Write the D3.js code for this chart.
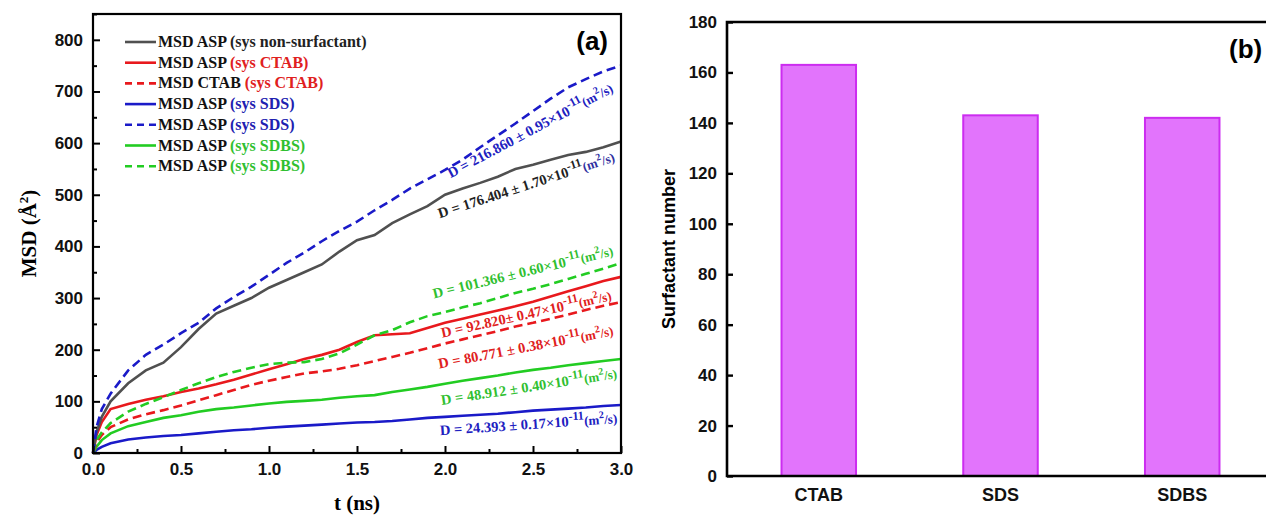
<!DOCTYPE html>
<html>
<head>
<meta charset="utf-8">
<script src="https://cdn.jsdelivr.net/npm/d3@7"></script>
<style>
  body { margin: 0; background: #fff; }
  svg text { font-family: "Liberation Serif", "Times New Roman", serif; font-weight: bold; }
  .sans { font-family: "Liberation Sans", Arial, sans-serif !important; }
</style>
</head>
<body>
<div id="chart"></div>
<script>
// time grid (ns) shared by all MSD curves
var tNs = [0, 0.02, 0.05, 0.1, 0.2, 0.3, 0.4, 0.5, 0.6, 0.7, 0.8, 0.9, 1.0, 1.1, 1.2, 1.3, 1.4, 1.5,
           1.6, 1.7, 1.8, 1.9, 2.0, 2.1, 2.2, 2.3, 2.4, 2.5, 2.6, 2.7, 2.8, 2.9, 3.0];

// MSD values (A^2)
var msdNonSurf   = [0, 40, 70, 100, 135, 160, 175, 205, 240, 270, 285, 300, 320, 335, 350, 365, 390, 412,
                    422, 445, 462, 478, 500, 512, 523, 535, 550, 558, 568, 577, 583, 592, 603];
var msdAspCtab   = [0, 35, 60, 85, 95, 103, 110, 118, 125, 133, 142, 152, 162, 172, 182, 190, 200, 215,
                    228, 230, 232, 242, 252, 260, 268, 276, 284, 293, 303, 313, 323, 333, 341];
var msdCtabCtab  = [0, 20, 35, 50, 65, 75, 83, 92, 102, 112, 122, 132, 140, 147, 154, 158, 163, 170,
                    178, 186, 194, 203, 212, 220, 228, 236, 245, 252, 260, 268, 277, 285, 292];
var msdAspSds    = [0, 6, 12, 19, 26, 30, 33, 35, 38, 41, 44, 46, 49, 51, 53, 55, 57, 59,
                    60, 62, 65, 68, 70, 72, 74, 76, 79, 82, 84, 86, 88, 91, 93];
var msdSdsDash   = [0, 50, 85, 115, 160, 190, 210, 232, 252, 280, 302, 322, 345, 368, 388, 410, 430, 448,
                    470, 490, 512, 530, 548, 568, 592, 615, 638, 662, 686, 708, 724, 739, 750];
var msdAspSdbs   = [0, 12, 25, 38, 52, 60, 68, 73, 80, 85, 88, 92, 96, 99, 101, 103, 107, 110,
                    112, 118, 123, 128, 134, 140, 145, 150, 156, 161, 165, 170, 174, 178, 182];
var msdSdbsDash  = [0, 25, 40, 58, 80, 95, 108, 122, 135, 147, 157, 165, 172, 175, 176, 182, 193, 210,
                    228, 238, 253, 265, 273, 282, 290, 300, 310, 318, 327, 337, 347, 357, 368];

var seriesNames = ['MSD ASP', 'MSD ASP', 'MSD CTAB', 'MSD ASP', 'MSD ASP', 'MSD ASP', 'MSD ASP'];
var seriesSys   = ['(sys non-surfactant)', '(sys CTAB)', '(sys CTAB)', '(sys SDS)', '(sys SDS)', '(sys SDBS)', '(sys SDBS)'];
var seriesVals  = [msdNonSurf, msdAspCtab, msdCtabCtab, msdAspSds, msdSdsDash, msdAspSdbs, msdSdbsDash];

// diffusion coefficient labels (x10^-11 m^2/s)
var diffLabel = ['D = 216.860 ± 0.95×10', 'D = 176.404 ± 1.70×10', 'D = 101.366 ± 0.60×10',
                 'D = 92.820± 0.47×10', 'D = 80.771 ± 0.38×10', 'D = 48.912 ± 0.40×10', 'D = 24.393 ± 0.17×10'];

// panel b
var surfactants = ['CTAB', 'SDS', 'SDBS'];
var surfCount = [163, 143, 142];

// ---- styles
var lineColor = ['#505050', '#e8191d', '#e8191d', '#1a1ac8', '#1a1ac8', '#22cc22', '#22cc22'];
var sysColor  = ['#222222', '#e02020', '#e02020', '#2020b0', '#2020b0', '#30c030', '#30c030'];
var dashed    = [false, false, true, false, true, false, true];
// annotation placement: [t, msd] of text end, rotation, colour, colour of the unit part
var annoPos = [[2.96, 700, -28, '#2020c0', '#2020c0'], [2.97, 565, -18, '#222222', '#3030a0'],
               [2.96, 383, -13.5, '#30c030', '#30c030'], [2.95, 296, -12.5, '#e02020', '#e02020'],
               [2.96, 228, -10.8, '#e02020', '#e02020'], [2.98, 145, -8.7, '#30c030', '#30c030'],
               [2.98, 58, -3.9, '#2020c0', '#2020c0']];

var W = 1266, H = 519;
var svg = d3.select('#chart').append('svg').attr('width', W).attr('height', H);

// ================= panel (a)
var a = {left: 93, right: 621, top: 14, bottom: 453};
var x = d3.scaleLinear().domain([0, 3]).range([a.left, a.right]);
var y = d3.scaleLinear().domain([0, 850]).range([a.bottom, a.top]);

var pa = svg.append('g');

var line = d3.line().x((d, i) => x(tNs[i])).y(d => y(d));
[3, 5, 2, 1, 6, 0, 4].forEach(function(k) {
  pa.append('path')
    .attr('d', line(seriesVals[k]))
    .attr('fill', 'none')
    .attr('stroke', lineColor[k])
    .attr('stroke-width', 2.6)
    .attr('stroke-dasharray', dashed[k] ? '9,5' : null);
});

// frame
pa.append('rect').attr('x', a.left).attr('y', a.top)
  .attr('width', a.right - a.left).attr('height', a.bottom - a.top)
  .attr('fill', 'none').attr('stroke', '#000').attr('stroke-width', 2.2);

// axes with inward ticks
var xAx = pa.append('g').attr('transform', 'translate(0,' + a.bottom + ')')
  .call(d3.axisTop(x).tickValues(d3.range(0, 3.01, 0.25)).tickSize(6).tickFormat(''));
xAx.selectAll('.tick line').attr('stroke-width', 2).attr('y2', (d, i) => i % 2 ? -4 : -7);
xAx.select('.domain').remove();
var xLab = pa.append('g').attr('transform', 'translate(0,' + a.bottom + ')')
  .call(d3.axisBottom(x).tickValues(d3.range(0, 3.01, 0.5)).tickSize(0).tickPadding(10).tickFormat(d3.format('.1f')));
xLab.select('.domain').remove();
xLab.selectAll('text').attr('class', 'sans').attr('font-size', 17).attr('fill', '#111');

var yAx = pa.append('g').attr('transform', 'translate(' + a.left + ',0)')
  .call(d3.axisRight(y).tickValues(d3.range(0, 851, 50)).tickSize(6).tickFormat(''));
yAx.selectAll('.tick line').attr('stroke-width', 2).attr('x2', (d, i) => i % 2 ? 4 : 7);
yAx.select('.domain').remove();
var yLab = pa.append('g').attr('transform', 'translate(' + a.left + ',0)')
  .call(d3.axisLeft(y).tickValues(d3.range(0, 801, 100)).tickSize(0).tickPadding(10));
yLab.select('.domain').remove();
yLab.selectAll('text').attr('class', 'sans').attr('font-size', 17).attr('fill', '#111');

// axis titles
pa.append('text').attr('x', (a.left + a.right) / 2).attr('y', 510)
  .attr('text-anchor', 'middle').attr('font-size', 21).text('t (ns)');
var yt = pa.append('text').attr('transform', 'translate(36,' + ((a.top + a.bottom) / 2) + ') rotate(-90)')
  .attr('text-anchor', 'middle').attr('font-size', 21);
yt.append('tspan').text('MSD (Å');
yt.append('tspan').attr('font-size', 13).attr('dy', -8).text('2');
yt.append('tspan').attr('dy', 8).text(')');

pa.append('text').attr('class', 'sans').attr('x', 608).attr('y', 50)
  .attr('text-anchor', 'end').attr('font-size', 26).text('(a)');

// legend
var lg = pa.append('g').attr('transform', 'translate(125,42)');
seriesNames.forEach(function(nm, k) {
  var row = lg.append('g').attr('transform', 'translate(0,' + (k * 20.7) + ')');
  row.append('line').attr('x1', 0).attr('x2', 31).attr('y1', 0).attr('y2', 0)
    .attr('stroke', lineColor[k]).attr('stroke-width', 2.6)
    .attr('stroke-dasharray', dashed[k] ? '7,5' : null);
  var tx = row.append('text').attr('x', 33).attr('y', 5).attr('font-size', 16);
  tx.append('tspan').attr('fill', '#111').text(nm + ' ');
  tx.append('tspan').attr('fill', sysColor[k]).text(seriesSys[k]);
});

// D annotations
diffLabel.forEach(function(lbl, k) {
  var p = annoPos[k];
  var t = pa.append('text')
    .attr('transform', 'translate(' + x(p[0]) + ',' + y(p[1]) + ') rotate(' + p[2] + ')')
    .attr('text-anchor', 'end').attr('font-size', 14.5).attr('fill', p[3]);
  t.append('tspan').text(lbl);
  t.append('tspan').attr('font-size', 12).attr('dy', -6).text('-11');
  t.append('tspan').attr('fill', p[4]).attr('font-size', 13).attr('dy', 6).text('(m');
  t.append('tspan').attr('fill', p[4]).attr('font-size', 10).attr('dy', -6).text('2');
  t.append('tspan').attr('fill', p[4]).attr('font-size', 13).attr('dy', 6).text('/s)');
});

// ================= panel (b)
var b = {left: 727, right: 1274, top: 22, bottom: 476};
var xb = d3.scaleBand().domain(surfactants).range([b.left, b.right]).paddingInner(0.59).paddingOuter(0.3);
var yb = d3.scaleLinear().domain([0, 180]).range([b.bottom, b.top]);

var pb = svg.append('g');
pb.selectAll('rect.bar').data(surfCount).enter().append('rect')
  .attr('class', 'bar')
  .attr('x', (d, i) => xb(surfactants[i]))
  .attr('width', xb.bandwidth())
  .attr('y', d => yb(d))
  .attr('height', d => yb(0) - yb(d))
  .attr('fill', '#e274fc').attr('stroke', '#cc2cf0').attr('stroke-width', 2);

pb.append('path')
  .attr('d', 'M' + b.right + ',' + b.top + 'H' + b.left + 'V' + b.bottom + 'H' + b.right + 'V' + b.top)
  .attr('fill', 'none').attr('stroke', '#000').attr('stroke-width', 2.6);

var ybAx = pb.append('g').attr('transform', 'translate(' + b.left + ',0)')
  .call(d3.axisLeft(yb).tickValues(d3.range(0, 181, 20)).tickSize(0).tickPadding(10));
ybAx.select('.domain').remove();
ybAx.selectAll('text').attr('class', 'sans').attr('font-size', 17).attr('fill', '#111');
ybAx.selectAll('.tick').append('line').attr('x1', 0).attr('x2', 6).attr('stroke', '#000').attr('stroke-width', 2.4);

var xbAx = pb.append('g').attr('transform', 'translate(0,' + b.bottom + ')')
  .call(d3.axisBottom(xb).tickSize(0).tickPadding(12));
xbAx.select('.domain').remove();
xbAx.selectAll('text').attr('class', 'sans').attr('font-size', 18).attr('fill', '#111');

pb.append('text').attr('class', 'sans')
  .attr('transform', 'translate(675,' + ((b.top + b.bottom) / 2) + ') rotate(-90)')
  .attr('text-anchor', 'middle').attr('font-size', 18).text('Surfactant number');

pb.append('text').attr('class', 'sans').attr('x', 1229).attr('y', 58)
  .attr('font-size', 26).text('(b)');
</script>
</body>
</html>
